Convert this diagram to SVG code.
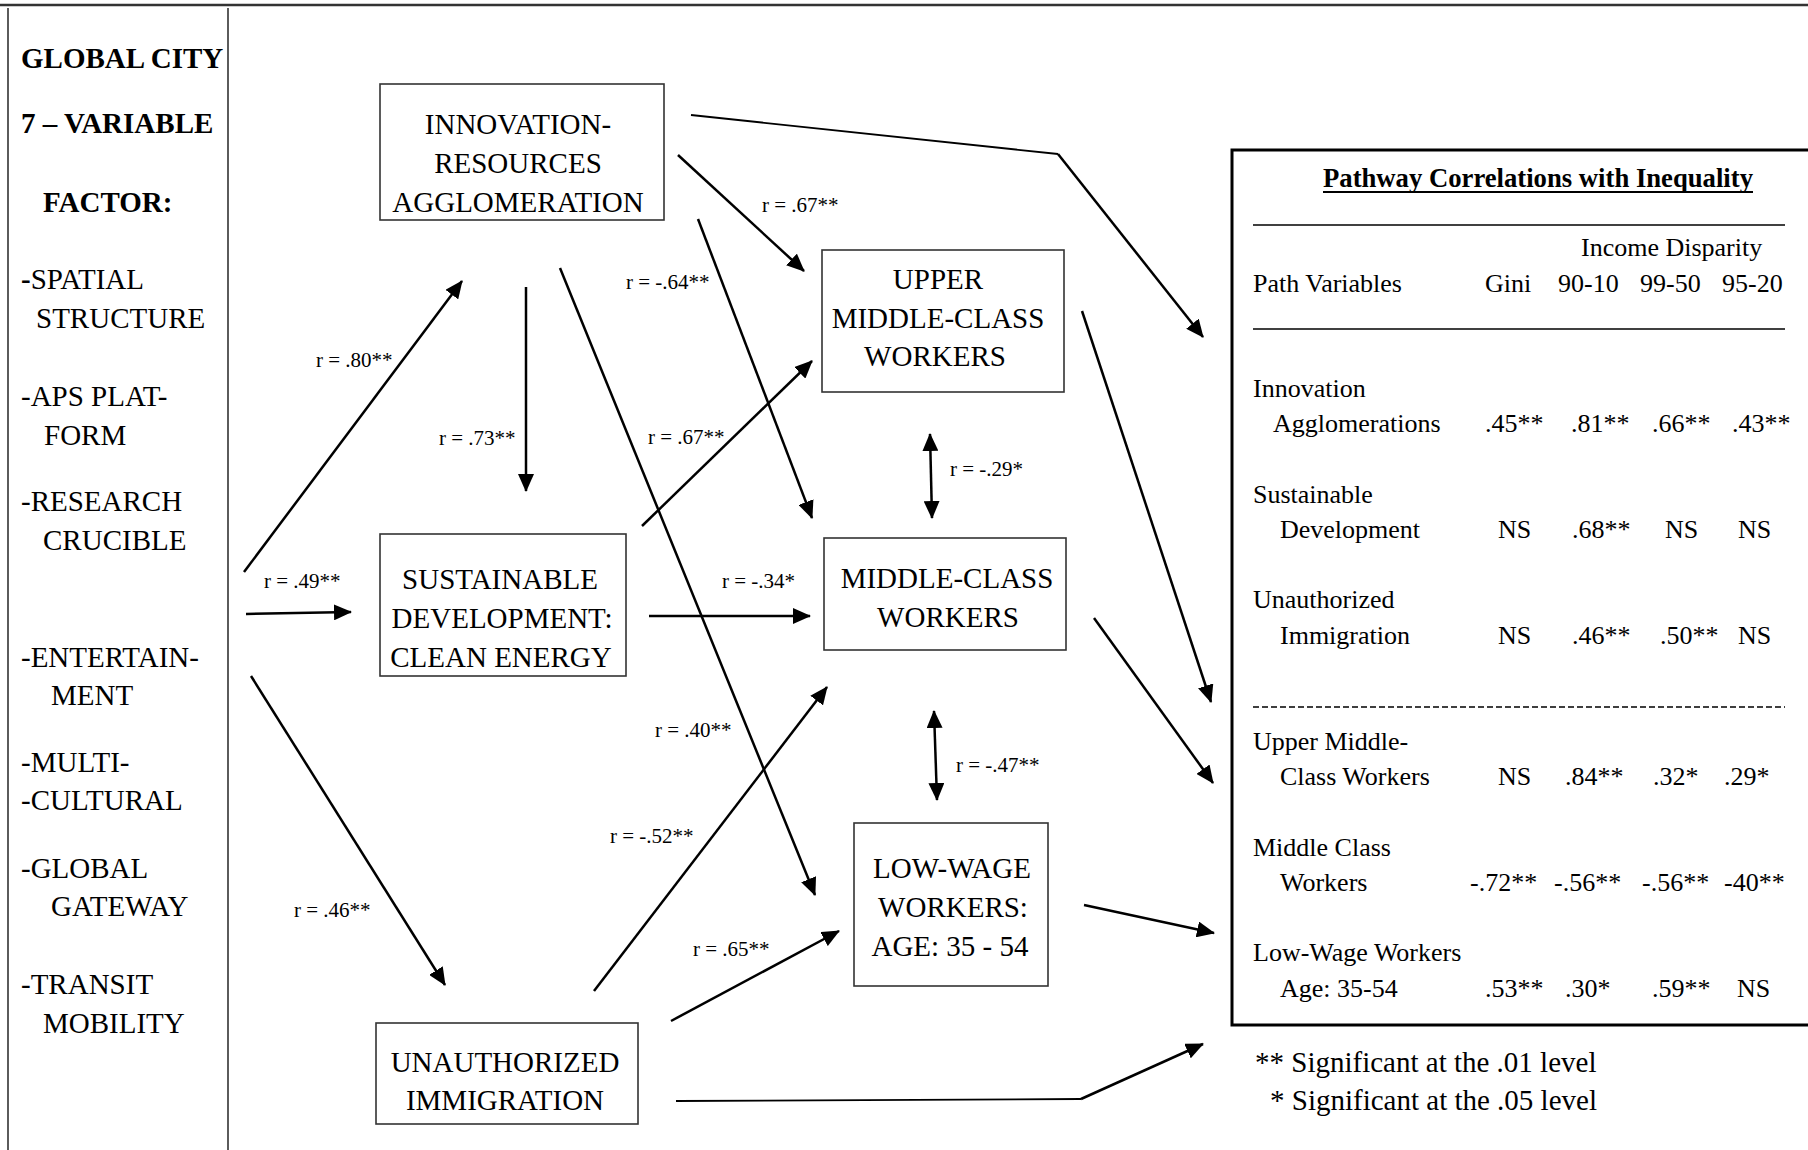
<svg xmlns="http://www.w3.org/2000/svg" width="1808" height="1150" viewBox="0 0 1808 1150">
<style>
.bg{fill:#fff}
.frame{stroke:#333;stroke-width:1.6;fill:none}
.box{fill:#fff;stroke:#333;stroke-width:1.6}
.tbl{fill:none;stroke:#000;stroke-width:3}
.t{font-family:"Liberation Serif","Times New Roman",serif;fill:#000}
.big{font-size:29px}
.bold{font-weight:bold}
.node{font-size:29px;text-anchor:middle}
.lab{font-size:21px}
.tab{font-size:26px}
.leg{font-size:29px}
.arr{stroke:#000;stroke-width:2.5;fill:none;marker-end:url(#ah)}
.bi{stroke:#000;stroke-width:2.5;fill:none;marker-end:url(#ah);marker-start:url(#ah)}
.ln{stroke:#000;stroke-width:1.8;fill:none}
.rule{stroke:#000;stroke-width:1.4}
</style>
<defs>
<marker id="ah" markerUnits="userSpaceOnUse" markerWidth="18" markerHeight="16" refX="17" refY="8" orient="auto-start-reverse">
<path d="M0,0 L18,8 L0,16 z" fill="#000"/>
</marker>
</defs>
<rect class="bg" x="0" y="0" width="1808" height="1150"/>

<g id="frame">
<line x1="0" y1="5" x2="1808" y2="5" stroke="#333" stroke-width="2.5"/>
<line class="frame" x1="8" y1="8" x2="8" y2="1150"/>
<line class="frame" x1="228" y1="8" x2="228" y2="1150"/>
</g>

<g id="factor-list" class="t big">
<text class="bold" x="21" y="68">GLOBAL CITY</text>
<text class="bold" x="21" y="133">7 – VARIABLE</text>
<text class="bold" x="43" y="212">FACTOR:</text>
<text x="21" y="289"><tspan font-weight="bold">-</tspan>SPATIAL</text>
<text x="36" y="328">STRUCTURE</text>
<text x="21" y="406">-APS PLAT-</text>
<text x="44" y="445">FORM</text>
<text x="21" y="511">-RESEARCH</text>
<text x="43" y="550">CRUCIBLE</text>
<text x="21" y="667">-ENTERTAIN-</text>
<text x="51" y="705">MENT</text>
<text x="21" y="772">-MULTI-</text>
<text x="21" y="810">-CULTURAL</text>
<text x="21" y="878">-GLOBAL</text>
<text x="51" y="916">GATEWAY</text>
<text x="21" y="994">-TRANSIT</text>
<text x="43" y="1033">MOBILITY</text>
</g>

<g id="connectors">
<line class="arr" x1="244" y1="572" x2="462" y2="281"/>
<line class="arr" x1="246" y1="614" x2="351" y2="612"/>
<line class="arr" x1="251" y1="676" x2="445" y2="985"/>
<line class="arr" x1="526" y1="287" x2="526" y2="491"/>
<line class="arr" x1="678" y1="155" x2="804" y2="271"/>
<line class="arr" x1="698" y1="219" x2="812" y2="518"/>
<line class="bi" x1="930" y1="434" x2="932" y2="518"/>
<line class="arr" x1="642" y1="526" x2="812" y2="361"/>
<line class="arr" x1="560" y1="268" x2="815" y2="895"/>
<line class="arr" x1="649" y1="616" x2="810" y2="616"/>
<line class="arr" x1="594" y1="991" x2="827" y2="687"/>
<line class="arr" x1="671" y1="1021" x2="839" y2="931"/>
<line class="bi" x1="934" y1="711" x2="937" y2="800"/>
<polyline class="ln" points="691,115 1058,154"/>
<line class="arr" x1="1058" y1="154" x2="1203" y2="337"/>
<line class="arr" x1="1082" y1="311" x2="1211" y2="702"/>
<line class="arr" x1="1094" y1="618" x2="1213" y2="783"/>
<line class="arr" x1="1084" y1="905" x2="1214" y2="933"/>
<polyline class="ln" points="676,1101 1081,1099"/>
<line class="arr" x1="1081" y1="1099" x2="1203" y2="1044"/>
</g>

<g id="connector-labels" class="t lab">
<text x="316" y="367">r = .80**</text>
<text x="264" y="588">r = .49**</text>
<text x="294" y="917">r = .46**</text>
<text x="439" y="445">r = .73**</text>
<text x="762" y="212">r = .67**</text>
<text x="626" y="289">r = -.64**</text>
<text x="950" y="476">r = -.29*</text>
<text x="648" y="444">r = .67**</text>
<text x="722" y="588">r = -.34*</text>
<text x="655" y="737">r = .40**</text>
<text x="610" y="843">r = -.52**</text>
<text x="693" y="956">r = .65**</text>
<text x="956" y="772">r = -.47**</text>
</g>

<g id="node-innovation">
<rect class="box" x="380" y="84" width="284" height="136"/>
<text class="t node" x="518" y="134">INNOVATION-</text>
<text class="t node" x="518" y="173">RESOURCES</text>
<text class="t node" x="518" y="212">AGGLOMERATION</text>
</g>

<g id="node-upper-middle">
<rect class="box" x="822" y="250" width="242" height="142"/>
<text class="t node" x="938" y="289">UPPER</text>
<text class="t node" x="938" y="328">MIDDLE-CLASS</text>
<text class="t node" x="935" y="366">WORKERS</text>
</g>

<g id="node-sustainable">
<rect class="box" x="380" y="534" width="246" height="142"/>
<text class="t node" x="500" y="589">SUSTAINABLE</text>
<text class="t node" x="502" y="628">DEVELOPMENT:</text>
<text class="t node" x="501" y="667">CLEAN ENERGY</text>
</g>

<g id="node-middle">
<rect class="box" x="824" y="538" width="242" height="112"/>
<text class="t node" x="947" y="588">MIDDLE-CLASS</text>
<text class="t node" x="948" y="627">WORKERS</text>
</g>

<g id="node-lowwage">
<rect class="box" x="854" y="823" width="194" height="163"/>
<text class="t node" x="952" y="878">LOW-WAGE</text>
<text class="t node" x="953" y="917">WORKERS:</text>
<text class="t node" x="950" y="956">AGE: 35 - 54</text>
</g>

<g id="node-unauthorized">
<rect class="box" x="376" y="1023" width="262" height="101"/>
<text class="t node" x="505" y="1072">UNAUTHORIZED</text>
<text class="t node" x="505" y="1110">IMMIGRATION</text>
</g>

<g id="table">
<rect class="tbl" x="1232" y="150" width="600" height="875"/>
<text class="t bold" x="1323" y="187" font-size="27" textLength="430" lengthAdjust="spacingAndGlyphs">Pathway Correlations with Inequality</text>
<line x1="1323" y1="192" x2="1753" y2="192" stroke="#000" stroke-width="2"/>
<line class="rule" x1="1253" y1="225" x2="1785" y2="225"/>
<g class="t tab">
<text x="1581" y="256">Income Disparity</text>
<text x="1253" y="292">Path Variables</text>
<text x="1485" y="292">Gini</text>
<text x="1558" y="292">90-10</text>
<text x="1640" y="292">99-50</text>
<text x="1722" y="292">95-20</text>
</g>
<line class="rule" x1="1253" y1="329" x2="1785" y2="329"/>
<g class="t tab">
<text x="1253" y="397">Innovation</text>
<text x="1273" y="432">Agglomerations</text>
<text x="1485" y="432">.45**</text>
<text x="1571" y="432">.81**</text>
<text x="1652" y="432">.66**</text>
<text x="1732" y="432">.43**</text>

<text x="1253" y="503">Sustainable</text>
<text x="1280" y="538">Development</text>
<text x="1498" y="538">NS</text>
<text x="1572" y="538">.68**</text>
<text x="1665" y="538">NS</text>
<text x="1738" y="538">NS</text>

<text x="1253" y="608">Unauthorized</text>
<text x="1280" y="644">Immigration</text>
<text x="1498" y="644">NS</text>
<text x="1572" y="644">.46**</text>
<text x="1660" y="644">.50**</text>
<text x="1738" y="644">NS</text>
</g>
<line x1="1253" y1="707" x2="1785" y2="707" stroke="#000" stroke-width="1.4" stroke-dasharray="6,3"/>
<g class="t tab">
<text x="1253" y="750">Upper Middle-</text>
<text x="1280" y="785">Class Workers</text>
<text x="1498" y="785">NS</text>
<text x="1565" y="785">.84**</text>
<text x="1653" y="785">.32*</text>
<text x="1724" y="785">.29*</text>

<text x="1253" y="856">Middle Class</text>
<text x="1280" y="891">Workers</text>
<text x="1470" y="891">-.72**</text>
<text x="1554" y="891">-.56**</text>
<text x="1642" y="891">-.56**</text>
<text x="1724" y="891">-40**</text>

<text x="1253" y="961">Low-Wage Workers</text>
<text x="1280" y="997">Age: 35-54</text>
<text x="1485" y="997">.53**</text>
<text x="1565" y="997">.30*</text>
<text x="1652" y="997">.59**</text>
<text x="1737" y="997">NS</text>
</g>
</g>

<g id="legend" class="t leg">
<text x="1255" y="1072">** Significant at the .01 level</text>
<text x="1270" y="1110">* Significant at the .05 level</text>
</g>
</svg>
